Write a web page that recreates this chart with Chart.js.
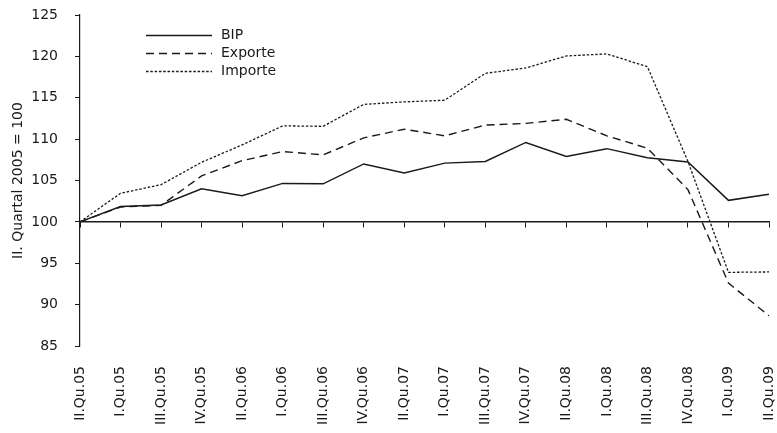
<!DOCTYPE html>
<html>
<head>
<meta charset="utf-8">
<script src="https://cdn.jsdelivr.net/npm/chart.js@4"></script>
<style>
  html, body { margin: 0; padding: 0; background: #fff; }
  #wrap { width: 777px; height: 433px; }
</style>
</head>
<body>
<div id="wrap"><canvas id="chart"></canvas></div>
<script>
const quarters = ['II.Qu.05', 'I.Qu.05', 'III.Qu.05', 'IV.Qu.05', 'II.Qu.06', 'I.Qu.06', 'III.Qu.06', 'IV.Qu.06',
  'II.Qu.07', 'I.Qu.07', 'III.Qu.07', 'IV.Qu.07', 'II.Qu.08', 'I.Qu.08', 'III.Qu.08', 'IV.Qu.08', 'I.Qu.09', 'II.Qu.09'];
const bip = [100, 101.85, 102.05, 104.0, 103.15, 104.65, 104.6, 107.0, 105.9, 107.1, 107.3, 109.6, 107.9, 108.85, 107.75, 107.25, 102.6, 103.35];
const exporte = [100, 101.8, 102.0, 105.55, 107.4, 108.5, 108.1, 110.15, 111.2, 110.4, 111.7, 111.9, 112.4, 110.4, 108.9, 103.9, 92.6, 88.65];
const importe = [100, 103.45, 104.5, 107.2, 109.3, 111.6, 111.55, 114.2, 114.5, 114.7, 117.95, 118.6, 120.05, 120.3, 118.75, 107.3, 93.9, 93.95];
const yTicks = [85, 90, 95, 100, 105, 110, 115, 120, 125];

const FONT = 'DejaVu Sans';
const INK = '#1a1a1a';

// legend drawn inside the plot, top left
const insideLegend = {
  id: 'insideLegend',
  afterDraw(chart) {
    const ctx = chart.ctx;
    ctx.save();
    ctx.font = '14px "' + FONT + '"';
    ctx.textBaseline = 'middle';
    ctx.fillStyle = INK;
    chart.data.datasets.forEach((ds, i) => {
      const y = 35.5 + i * 18;
      ctx.strokeStyle = ds.borderColor;
      ctx.lineWidth = ds.borderWidth;
      ctx.setLineDash(ds.borderDash || []);
      ctx.beginPath();
      ctx.moveTo(146, y);
      ctx.lineTo(212, y);
      ctx.stroke();
      ctx.fillText(ds.label, 221, y);
    });
    ctx.restore();
  }
};

// keep the chart area fixed: no extra room for edge labels
function noPad(scale) {
  scale.paddingLeft = 0;
  scale.paddingRight = 0;
  scale.paddingTop = 0;
  scale.paddingBottom = 0;
}

new Chart(document.getElementById('chart'), {
  type: 'line',
  data: {
    labels: quarters,
    datasets: [
      { label: 'BIP', data: bip, borderColor: INK, borderWidth: 1.5, borderDash: [] },
      { label: 'Exporte', data: exporte, borderColor: INK, borderWidth: 1.4, borderDash: [8, 5] },
      { label: 'Importe', data: importe, borderColor: INK, borderWidth: 1.3, borderDash: [2.5, 1.8] }
    ]
  },
  options: {
    responsive: true,
    maintainAspectRatio: false,
    animation: false,
    events: [],
    elements: { point: { radius: 0 }, line: { tension: 0 } },
    layout: { padding: { top: 15, right: 8, left: 0, bottom: 0 } },
    plugins: { legend: { display: false }, tooltip: { enabled: false } },
    scales: {
      x: {
        type: 'category',
        position: { y: 100 },
        offset: false,
        grid: { drawOnChartArea: false, drawTicks: true, tickLength: 5, color: INK },
        border: { display: true, color: INK, width: 1.5 },
        ticks: { display: false },
        afterFit: noPad
      },
      x2: {
        type: 'category',
        labels: quarters,
        position: 'bottom',
        offset: false,
        grid: { display: false, drawTicks: false },
        border: { display: false },
        ticks: {
          autoSkip: false, maxRotation: 90, minRotation: 90, padding: 20,
          color: INK, font: { family: FONT, size: 14 }
        },
        afterFit(scale) { noPad(scale); scale.height = 87; }
      },
      y: {
        min: 85,
        max: 125,
        afterBuildTicks(scale) { scale.ticks = yTicks.map(v => ({ value: v })); },
        grid: { drawOnChartArea: false, drawTicks: true, tickLength: 5, color: INK },
        border: { display: true, color: INK, width: 1.2 },
        ticks: { padding: 17, color: INK, font: { family: FONT, size: 14 } },
        title: {
          display: true, text: 'II. Quartal 2005 = 100', color: INK,
          font: { family: FONT, size: 14 }, padding: { top: 10, bottom: 0 }
        },
        afterFit(scale) { noPad(scale); scale.width = 80; }
      }
    }
  },
  plugins: [insideLegend]
});
</script>
</body>
</html>
